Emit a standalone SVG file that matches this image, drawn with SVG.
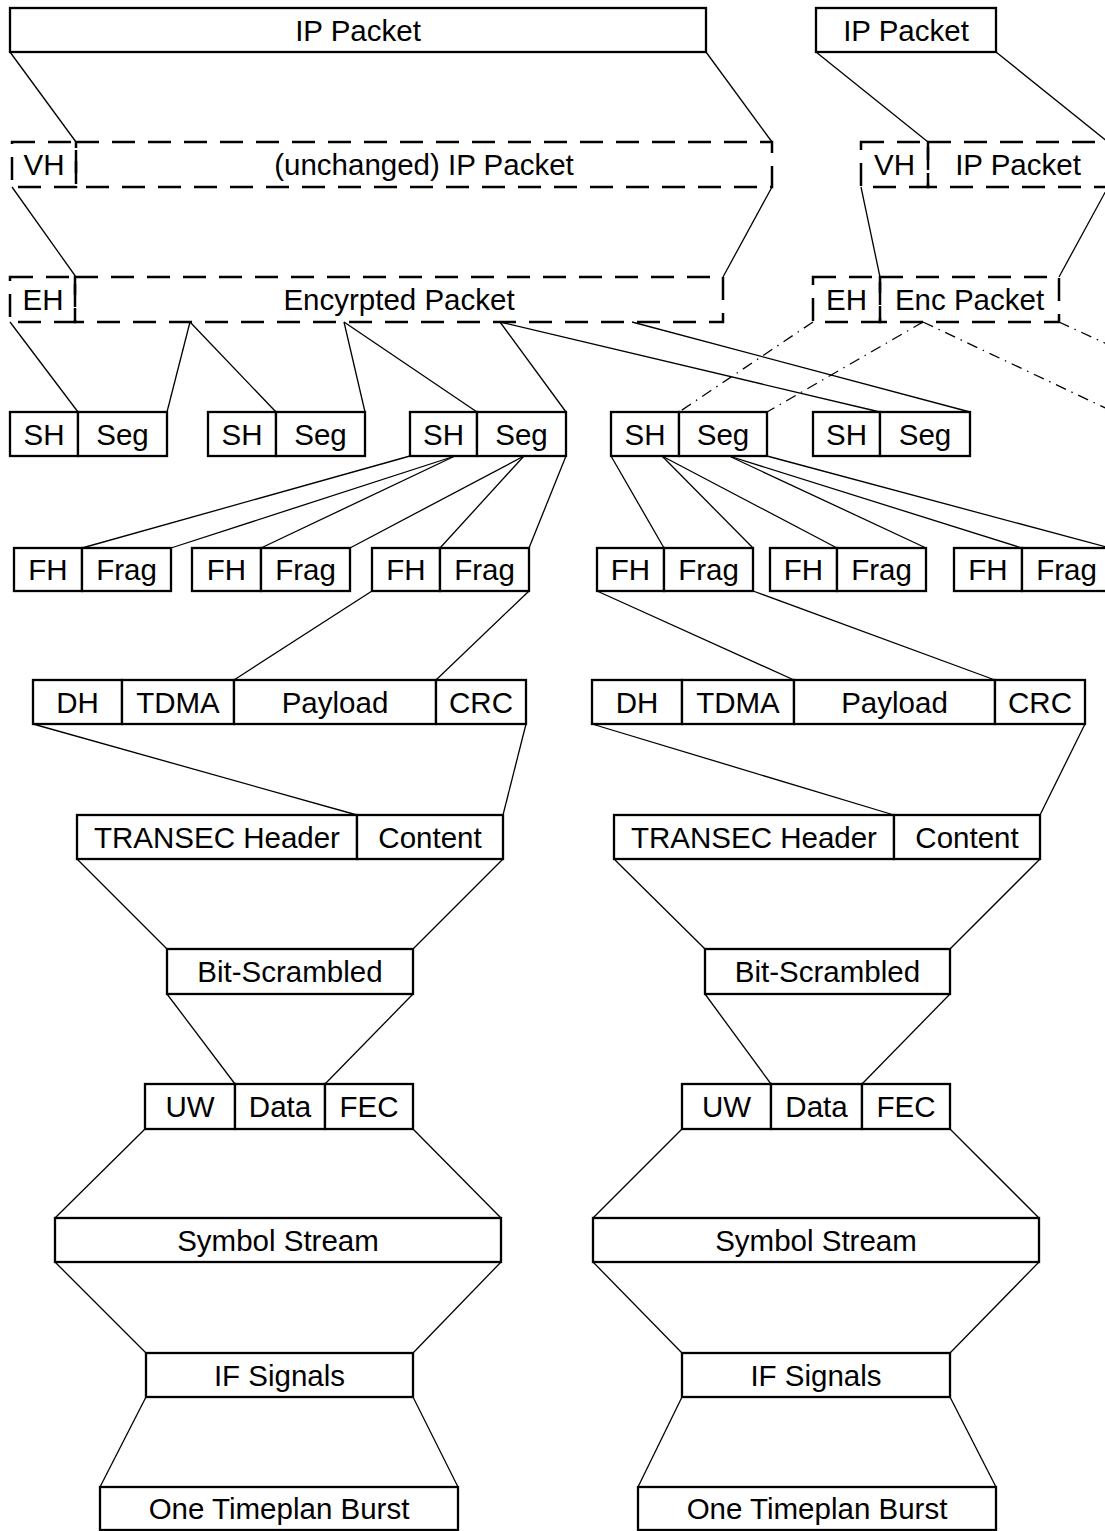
<svg xmlns="http://www.w3.org/2000/svg" width="1105" height="1531" viewBox="0 0 1105 1531">
<style>
.b{fill:#fff;stroke:#000;stroke-width:2.3}
.d{fill:none;stroke:#000;stroke-width:2.5;stroke-dasharray:23 13}
.l{fill:none;stroke:#000;stroke-width:1.3}
.dd{fill:none;stroke:#000;stroke-width:1.3;stroke-dasharray:11 6 1.5 6}
text{font-family:"Liberation Sans",Arial,sans-serif;font-size:29.5px;text-anchor:middle;fill:#000}
</style>
<rect width="1105" height="1531" fill="#fff"/>
<g id="connectors">
<!-- left tree top -->
<line class="l" x1="10" y1="52" x2="76" y2="142"/>
<line class="l" x1="706" y1="52" x2="772" y2="142"/>
<line class="l" x1="12" y1="187" x2="76" y2="277"/>
<line class="l" x1="772" y1="187" x2="723" y2="277"/>
<line class="l" x1="816" y1="52" x2="928" y2="142"/>
<line class="l" x1="996" y1="52" x2="1108" y2="142"/>
<line class="l" x1="861" y1="187" x2="880" y2="277"/>
<line class="l" x1="1108" y1="187" x2="1059" y2="277"/>
<!-- EH row to SH row -->
<line class="l" x1="10" y1="322" x2="78" y2="412"/>
<line class="l" x1="190" y1="322" x2="167" y2="412"/>
<line class="l" x1="190" y1="322" x2="276" y2="412"/>
<line class="l" x1="344" y1="322" x2="365" y2="412"/>
<line class="l" x1="344" y1="322" x2="477" y2="412"/>
<line class="l" x1="500" y1="322" x2="566" y2="412"/>
<line class="l" x1="500" y1="322" x2="880" y2="412"/>
<line class="l" x1="632" y1="322" x2="970" y2="412"/>
<line class="dd" x1="813" y1="322" x2="679" y2="412"/>
<line class="dd" x1="923" y1="322" x2="767" y2="412"/>
<line class="dd" x1="923" y1="322" x2="1114" y2="412"/>
<line class="dd" x1="1059" y1="322" x2="1255" y2="412"/>
<!-- SH row to FH row -->
<line class="l" x1="410" y1="456" x2="82" y2="548"/>
<line class="l" x1="455" y1="456" x2="171" y2="548"/>
<line class="l" x1="455" y1="456" x2="261" y2="548"/>
<line class="l" x1="524" y1="456" x2="350" y2="548"/>
<line class="l" x1="524" y1="456" x2="440" y2="548"/>
<line class="l" x1="566" y1="456" x2="529" y2="548"/>
<line class="l" x1="611" y1="456" x2="664" y2="548"/>
<line class="l" x1="662" y1="456" x2="753" y2="548"/>
<line class="l" x1="662" y1="456" x2="837" y2="548"/>
<line class="l" x1="729" y1="456" x2="926" y2="548"/>
<line class="l" x1="729" y1="456" x2="1022" y2="548"/>
<line class="l" x1="767" y1="456" x2="1110" y2="548"/>
<!-- FH to DH -->
<line class="l" x1="372" y1="591" x2="234" y2="680"/>
<line class="l" x1="529" y1="591" x2="436" y2="680"/>
<line class="l" x1="597" y1="591" x2="794" y2="680"/>
<line class="l" x1="753" y1="591" x2="995" y2="680"/>
<!-- DH to TRANSEC -->
<line class="l" x1="33" y1="724" x2="357" y2="815"/>
<line class="l" x1="526" y1="724" x2="503" y2="815"/>
<line class="l" x1="592" y1="724" x2="894" y2="815"/>
<line class="l" x1="1085" y1="724" x2="1040" y2="815"/>
<!-- TRANSEC to Bit-Scrambled -->
<line class="l" x1="77" y1="859" x2="167" y2="949"/>
<line class="l" x1="503" y1="859" x2="413" y2="949"/>
<line class="l" x1="614" y1="859" x2="705" y2="949"/>
<line class="l" x1="1040" y1="859" x2="950" y2="949"/>
<!-- Bit-Scrambled to UW -->
<line class="l" x1="167" y1="994" x2="235" y2="1084"/>
<line class="l" x1="413" y1="994" x2="325" y2="1084"/>
<line class="l" x1="705" y1="994" x2="771" y2="1084"/>
<line class="l" x1="950" y1="994" x2="862" y2="1084"/>
<!-- UW to Symbol -->
<line class="l" x1="145" y1="1129" x2="55" y2="1218"/>
<line class="l" x1="413" y1="1129" x2="501" y2="1218"/>
<line class="l" x1="682" y1="1129" x2="593" y2="1218"/>
<line class="l" x1="950" y1="1129" x2="1039" y2="1218"/>
<!-- Symbol to IF -->
<line class="l" x1="55" y1="1262" x2="146" y2="1353"/>
<line class="l" x1="501" y1="1262" x2="413" y2="1353"/>
<line class="l" x1="593" y1="1262" x2="682" y2="1353"/>
<line class="l" x1="1039" y1="1262" x2="950" y2="1353"/>
<!-- IF to Burst -->
<line class="l" x1="146" y1="1397" x2="100" y2="1487"/>
<line class="l" x1="413" y1="1397" x2="458" y2="1487"/>
<line class="l" x1="682" y1="1397" x2="638" y2="1487"/>
<line class="l" x1="950" y1="1397" x2="996" y2="1487"/>
</g>

<g id="ip1"><rect class="b" x="10" y="8" width="696" height="44"/><text x="358" y="40.5">IP Packet</text></g>
<g id="ip2"><rect class="b" x="816" y="8" width="180" height="44"/><text x="906" y="40.5">IP Packet</text></g>

<g id="vh1"><rect class="d" x="12" y="142" width="64" height="45"/><rect class="d" x="76" y="142" width="696" height="45"/><text x="44" y="175">VH</text><text x="424" y="175">(unchanged) IP Packet</text></g>
<g id="vh2"><rect class="d" x="861" y="142" width="67" height="45"/><rect class="d" x="928" y="142" width="180" height="45"/><text x="894.5" y="175">VH</text><text x="1018" y="175">IP Packet</text></g>

<g id="eh1"><rect class="d" x="10" y="277" width="65" height="45"/><rect class="d" x="75" y="277" width="648" height="45"/><text x="43" y="310">EH</text><text x="399" y="310">Encyrpted Packet</text></g>
<g id="eh2"><rect class="d" x="813" y="277" width="67" height="45"/><rect class="d" x="880" y="277" width="179" height="45"/><text x="846.5" y="310">EH</text><text x="969.5" y="310">Enc Packet</text></g>

<g id="seg1"><rect class="b" x="10" y="412" width="68" height="44"/><rect class="b" x="78" y="412" width="89" height="44"/><text x="44" y="444.5">SH</text><text x="122.5" y="444.5">Seg</text></g>
<g id="seg2"><rect class="b" x="208" y="412" width="68" height="44"/><rect class="b" x="276" y="412" width="89" height="44"/><text x="242" y="444.5">SH</text><text x="320.5" y="444.5">Seg</text></g>
<g id="seg3"><rect class="b" x="410" y="412" width="67" height="44"/><rect class="b" x="477" y="412" width="89" height="44"/><text x="443.5" y="444.5">SH</text><text x="521.5" y="444.5">Seg</text></g>
<g id="seg4"><rect class="b" x="611" y="412" width="68" height="44"/><rect class="b" x="679" y="412" width="88" height="44"/><text x="645" y="444.5">SH</text><text x="723" y="444.5">Seg</text></g>
<g id="seg5"><rect class="b" x="813" y="412" width="67" height="44"/><rect class="b" x="880" y="412" width="90" height="44"/><text x="846.5" y="444.5">SH</text><text x="925" y="444.5">Seg</text></g>

<g id="frag1"><rect class="b" x="14" y="548" width="68" height="43"/><rect class="b" x="82" y="548" width="89" height="43"/><text x="48" y="580">FH</text><text x="126.5" y="580">Frag</text></g>
<g id="frag2"><rect class="b" x="192" y="548" width="69" height="43"/><rect class="b" x="261" y="548" width="89" height="43"/><text x="226.5" y="580">FH</text><text x="305.5" y="580">Frag</text></g>
<g id="frag3"><rect class="b" x="372" y="548" width="68" height="43"/><rect class="b" x="440" y="548" width="89" height="43"/><text x="406" y="580">FH</text><text x="484.5" y="580">Frag</text></g>
<g id="frag4"><rect class="b" x="597" y="548" width="67" height="43"/><rect class="b" x="664" y="548" width="89" height="43"/><text x="630.5" y="580">FH</text><text x="708.5" y="580">Frag</text></g>
<g id="frag5"><rect class="b" x="770" y="548" width="67" height="43"/><rect class="b" x="837" y="548" width="89" height="43"/><text x="803.5" y="580">FH</text><text x="881.5" y="580">Frag</text></g>
<g id="frag6"><rect class="b" x="954" y="548" width="68" height="43"/><rect class="b" x="1022" y="548" width="89" height="43"/><text x="988" y="580">FH</text><text x="1066.5" y="580">Frag</text></g>

<g id="dh1"><rect class="b" x="33" y="680" width="89" height="44"/><rect class="b" x="122" y="680" width="112" height="44"/><rect class="b" x="234" y="680" width="202" height="44"/><rect class="b" x="436" y="680" width="90" height="44"/>
<text x="77.5" y="712.5">DH</text><text x="178" y="712.5">TDMA</text><text x="335" y="712.5">Payload</text><text x="481" y="712.5">CRC</text></g>
<g id="dh2"><rect class="b" x="592" y="680" width="90" height="44"/><rect class="b" x="682" y="680" width="112" height="44"/><rect class="b" x="794" y="680" width="201" height="44"/><rect class="b" x="995" y="680" width="90" height="44"/>
<text x="637" y="712.5">DH</text><text x="738" y="712.5">TDMA</text><text x="894.5" y="712.5">Payload</text><text x="1040" y="712.5">CRC</text></g>

<g id="tr1"><rect class="b" x="77" y="815" width="280" height="44"/><rect class="b" x="357" y="815" width="146" height="44"/><text x="217" y="847.5">TRANSEC Header</text><text x="430" y="847.5">Content</text></g>
<g id="tr2"><rect class="b" x="614" y="815" width="280" height="44"/><rect class="b" x="894" y="815" width="146" height="44"/><text x="754" y="847.5">TRANSEC Header</text><text x="967" y="847.5">Content</text></g>

<g id="bs1"><rect class="b" x="167" y="949" width="246" height="45"/><text x="290" y="982">Bit-Scrambled</text></g>
<g id="bs2"><rect class="b" x="705" y="949" width="245" height="45"/><text x="827.5" y="982">Bit-Scrambled</text></g>

<g id="uw1"><rect class="b" x="145" y="1084" width="90" height="45"/><rect class="b" x="235" y="1084" width="90" height="45"/><rect class="b" x="325" y="1084" width="88" height="45"/>
<text x="190" y="1117">UW</text><text x="280" y="1117">Data</text><text x="369" y="1117">FEC</text></g>
<g id="uw2"><rect class="b" x="682" y="1084" width="89" height="45"/><rect class="b" x="771" y="1084" width="91" height="45"/><rect class="b" x="862" y="1084" width="88" height="45"/>
<text x="726.5" y="1117">UW</text><text x="816.5" y="1117">Data</text><text x="906" y="1117">FEC</text></g>

<g id="sym1"><rect class="b" x="55" y="1218" width="446" height="44"/><text x="278" y="1250.5">Symbol Stream</text></g>
<g id="sym2"><rect class="b" x="593" y="1218" width="446" height="44"/><text x="816" y="1250.5">Symbol Stream</text></g>

<g id="if1"><rect class="b" x="146" y="1353" width="267" height="44"/><text x="279.5" y="1385.5">IF Signals</text></g>
<g id="if2"><rect class="b" x="682" y="1353" width="268" height="44"/><text x="816" y="1385.5">IF Signals</text></g>

<g id="burst1"><rect class="b" x="100" y="1487" width="358" height="43"/><text x="279" y="1519">One Timeplan Burst</text></g>
<g id="burst2"><rect class="b" x="638" y="1487" width="358" height="43"/><text x="817" y="1519">One Timeplan Burst</text></g>
</svg>
